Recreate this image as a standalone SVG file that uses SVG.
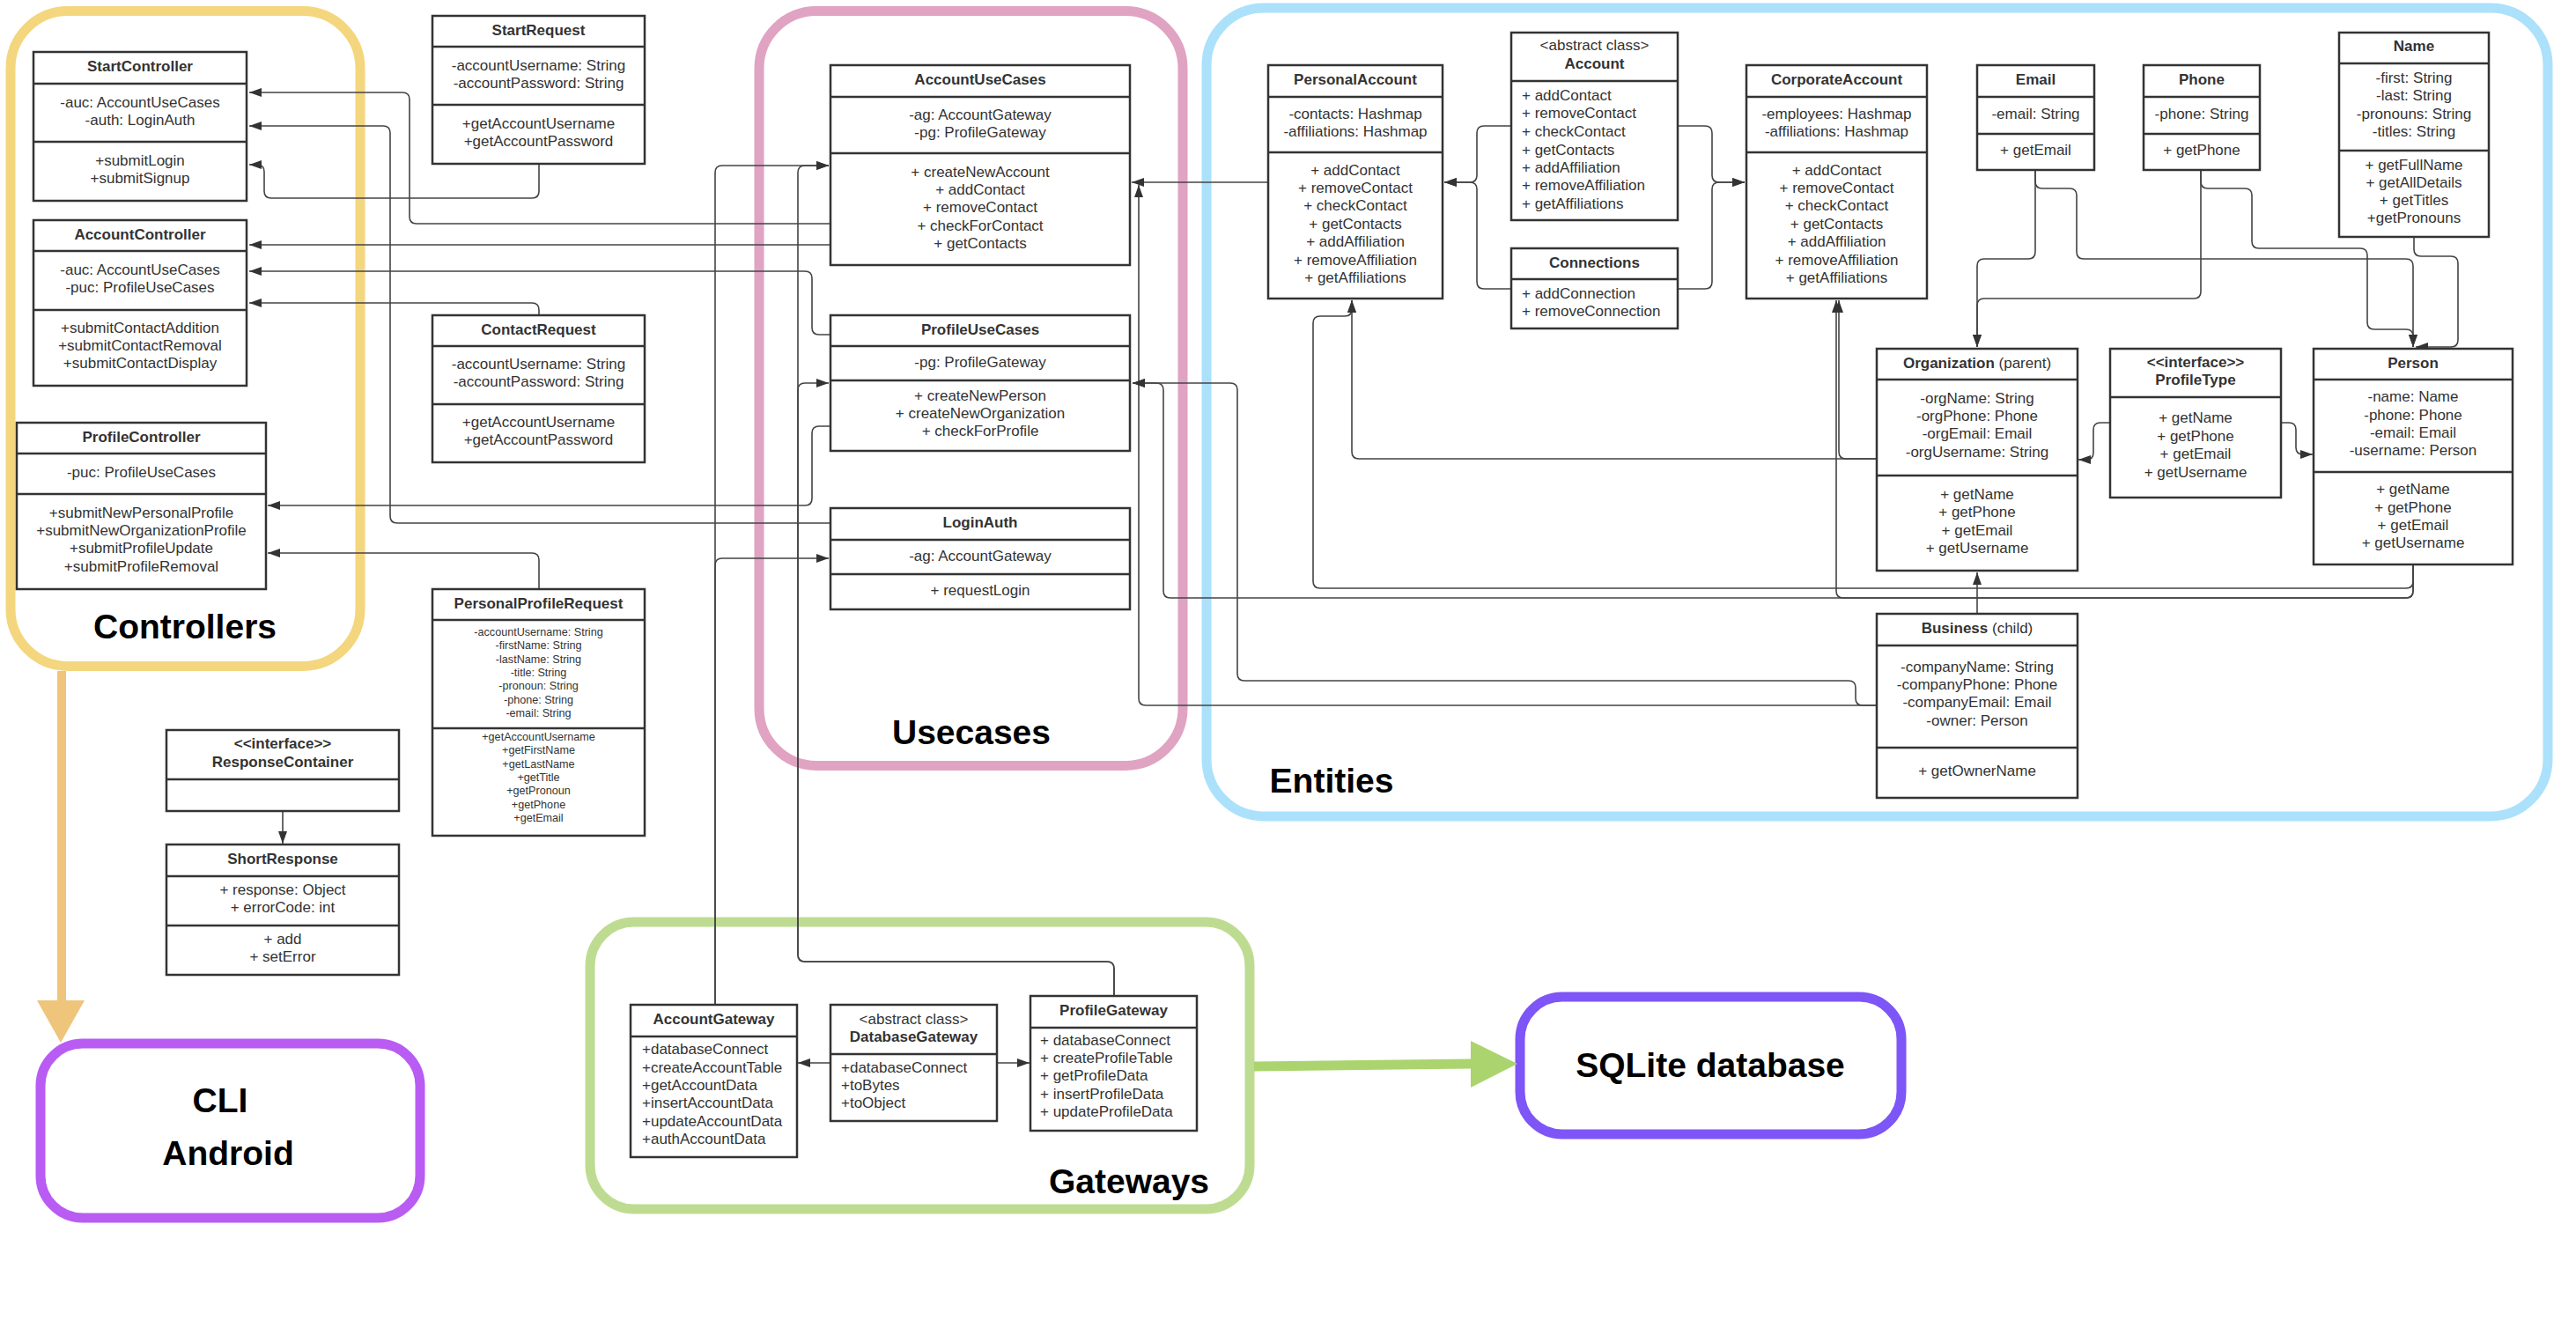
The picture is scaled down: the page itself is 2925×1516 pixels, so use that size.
<svg xmlns="http://www.w3.org/2000/svg" width="2925" height="1516" viewBox="0 0 2925 1516">
<defs>
<style>
.box{fill:#fff;stroke:#333;stroke-width:2.5}
.div{stroke:#333;stroke-width:2.5}
.h{font-family:"Liberation Sans",Arial,sans-serif;font-size:17px;font-weight:bold;fill:#333;text-anchor:middle}
.t{font-family:"Liberation Sans",Arial,sans-serif;font-size:17px;fill:#333;text-anchor:middle}
.tl{font-family:"Liberation Sans",Arial,sans-serif;font-size:17px;fill:#333}
.ts{font-family:"Liberation Sans",Arial,sans-serif;font-size:12.6px;fill:#333;text-anchor:middle}
.g{font-family:"Liberation Sans",Arial,sans-serif;font-size:39px;font-weight:bold;fill:#000;text-anchor:middle}
.c{fill:none;stroke:#444;stroke-width:1.6;marker-end:url(#a)}
.grp{fill:none;stroke-width:11}
</style>
<marker id="a" viewBox="0 0 14 10" markerWidth="14" markerHeight="10" markerUnits="userSpaceOnUse" refX="14" refY="5" orient="auto"><path d="M0,0 L14,5 L0,10 z" fill="#333"/></marker>
</defs>
<rect width="2925" height="1516" fill="#fff"/>

<g id="groups">
<rect id="controllers-group" class="grp" x="12" y="12.5" width="397" height="744" rx="65" stroke="#F4D67E"/>
<rect id="usecases-group" class="grp" x="862" y="12.5" width="481" height="857" rx="65" stroke="#E0A3C2"/>
<rect id="entities-group" class="grp" x="1370" y="9" width="1523" height="918" rx="65" stroke="#ABE1FB"/>
<rect id="gateways-group" class="grp" x="670" y="1047" width="749" height="326" rx="50" stroke="#BEDC91"/>
<text class="g" x="210" y="725">Controllers</text>
<text class="g" x="1103" y="845">Usecases</text>
<text class="g" x="1512" y="900">Entities</text>
<text class="g" x="1282" y="1355">Gateways</text>
</g>

<g id="cli-android">
<rect x="46" y="1185" width="431" height="198" rx="48" fill="#fff" stroke="#B95CF3" stroke-width="11"/>
<text class="g" x="250" y="1263">CLI</text>
<text class="g" x="259" y="1323">Android</text>
</g>
<g id="sqlite">
<rect x="1726" y="1132" width="433" height="156" rx="48" fill="#fff" stroke="#7E55F6" stroke-width="11"/>
<text class="g" x="1942" y="1223">SQLite database</text>
</g>

<g id="connectors">
<line x1="70" y1="762" x2="70" y2="1137" stroke="#EFC47B" stroke-width="10"/>
<polygon points="42,1136 96,1136 69,1184" fill="#EFC47B"/>
<line x1="1424" y1="1211" x2="1671" y2="1208" stroke="#ABD46E" stroke-width="11"/>
<polygon points="1670,1182 1723,1208 1670,1235" fill="#ABD46E"/>

<path class="c" d="M943,254 H473 Q465,254 465,246 V113 Q465,105 457,105 H283"/>
<path class="c" d="M943,594 H451 Q443,594 443,586 V151 Q443,143 435,143 H283"/>
<path class="c" d="M612,186 V217 Q612,225 604,225 H308 Q300,225 300,217 V195 Q300,187 292,187 H283"/>
<path class="c" d="M943,278 H283"/>
<path class="c" d="M943,380 H930 Q922,380 922,372 V316 Q922,308 914,308 H283"/>
<path class="c" d="M612,358 V352 Q612,344 604,344 H283"/>
<path class="c" d="M943,484 H930 Q922,484 922,492 V566 Q922,574 914,574 H304"/>
<path class="c" d="M612,669 V636 Q612,628 604,628 H304"/>
<path class="c" d="M812,1141 V196 Q812,188 820,188 H941"/>
<path class="c" d="M812,1141 V642 Q812,634 820,634 H941"/>
<path class="c" d="M1265,1131 V1100 Q1265,1092 1257,1092 H914 Q906,1092 906,1084 V196 Q906,188 914,188 H941"/>
<path class="c" d="M1265,1131 V1100 Q1265,1092 1257,1092 H914 Q906,1092 906,1084 V443 Q906,435 914,435 H941"/>
<path class="c" d="M1440,207 H1285"/>
<path class="c" d="M2131,801 H1301 Q1293,801 1293,793 V210"/>
<path class="c" d="M2740,641 V671 Q2740,679 2732,679 H1329 Q1321,679 1321,671 V443 Q1321,435 1313,435 H1286"/>
<path class="c" d="M2131,801 H2115 Q2107,801 2107,793 V781 Q2107,773 2099,773 H1413 Q1405,773 1405,765 V443 Q1405,435 1397,435 H1286"/>
<path class="c" d="M2740,641 V660 Q2740,668 2732,668 H1499 Q1491,668 1491,660 V367 Q1491,359 1499,359 H1527 Q1535,359 1535,351 V341"/>
<path class="c" d="M2131,521 H1543 Q1535,521 1535,513 V341"/>
<path class="c" d="M2131,521 H2096 Q2088,521 2088,513 V341"/>
<path class="c" d="M2740,641 V671 Q2740,679 2732,679 H2093 Q2085,679 2085,671 V341"/>
<path class="c" d="M1716,143 H1685 Q1677,143 1677,151 V199 Q1677,207 1669,207 H1640"/>
<path class="c" d="M1716,328 H1685 Q1677,328 1677,320 V215 Q1677,207 1669,207 H1640"/>
<path class="c" d="M1905,143 H1936 Q1944,143 1944,151 V199 Q1944,207 1952,207 H1981"/>
<path class="c" d="M1905,328 H1936 Q1944,328 1944,320 V215 Q1944,207 1952,207 H1981"/>
<path class="c" d="M2311,193 V286 Q2311,294 2303,294 H2253 Q2245,294 2245,302 V394"/>
<path class="c" d="M2499,193 V331 Q2499,339 2491,339 H2253 Q2245,339 2245,347 V394"/>
<path class="c" d="M2311,193 V206 Q2311,214 2319,214 H2350 Q2358,214 2358,222 V286 Q2358,294 2366,294 H2732 Q2740,294 2740,302 V394"/>
<path class="c" d="M2499,193 V206 Q2499,214 2507,214 H2549 Q2557,214 2557,222 V274 Q2557,282 2565,282 H2680 Q2688,282 2688,290 V366 Q2688,374 2696,374 H2732 Q2740,374 2740,382 V394"/>
<path class="c" d="M2741,269 V283 Q2741,291 2749,291 H2783 Q2791,291 2791,299 V386 Q2791,394 2783,394 H2743"/>
<path class="c" d="M2396,480 H2385 Q2377,480 2377,488 V514 Q2377,522 2369,522 H2360"/>
<path class="c" d="M2590,480 H2599 Q2607,480 2607,488 V508 Q2607,516 2615,516 H2626"/>
<path class="c" d="M2245,697 V650"/>
<path class="c" d="M321,921 V958"/>
<path class="c" d="M943,1207 H906"/>
<path class="c" d="M1132,1207 H1169"/>
</g>

<g id="StartController">
<rect class="box" x="38" y="59" width="242" height="169"/>
<line class="div" x1="38" y1="95" x2="280" y2="95"/><line class="div" x1="38" y1="161" x2="280" y2="161"/>
<text class="h" x="159" y="81">StartController</text>
<text class="t"><tspan x="159" y="122">-auc: AccountUseCases</tspan><tspan x="159" y="142">-auth: LoginAuth</tspan></text>
<text class="t"><tspan x="159" y="188">+submitLogin</tspan><tspan x="159" y="208">+submitSignup</tspan></text>
</g>

<g id="StartRequest">
<rect class="box" x="491" y="18" width="241" height="168"/>
<line class="div" x1="491" y1="53" x2="732" y2="53"/><line class="div" x1="491" y1="119" x2="732" y2="119"/>
<text class="h" x="611.5" y="40">StartRequest</text>
<text class="t"><tspan x="611.5" y="80">-accountUsername: String</tspan><tspan x="611.5" y="100">-accountPassword: String</tspan></text>
<text class="t"><tspan x="611.5" y="146">+getAccountUsername</tspan><tspan x="611.5" y="166">+getAccountPassword</tspan></text>
</g>

<g id="AccountController">
<rect class="box" x="38" y="250" width="242" height="188"/>
<line class="div" x1="38" y1="285" x2="280" y2="285"/><line class="div" x1="38" y1="352" x2="280" y2="352"/>
<text class="h" x="159" y="272">AccountController</text>
<text class="t"><tspan x="159" y="312">-auc: AccountUseCases</tspan><tspan x="159" y="332">-puc: ProfileUseCases</tspan></text>
<text class="t"><tspan x="159" y="378">+submitContactAddition</tspan><tspan x="159" y="398">+submitContactRemoval</tspan><tspan x="159" y="418">+submitContactDisplay</tspan></text>
</g>

<g id="ContactRequest">
<rect class="box" x="491" y="358" width="241" height="167"/>
<line class="div" x1="491" y1="393" x2="732" y2="393"/><line class="div" x1="491" y1="459" x2="732" y2="459"/>
<text class="h" x="611.5" y="380">ContactRequest</text>
<text class="t"><tspan x="611.5" y="419">-accountUsername: String</tspan><tspan x="611.5" y="439">-accountPassword: String</tspan></text>
<text class="t"><tspan x="611.5" y="485">+getAccountUsername</tspan><tspan x="611.5" y="505">+getAccountPassword</tspan></text>
</g>

<g id="ProfileController">
<rect class="box" x="19" y="480" width="283" height="189"/>
<line class="div" x1="19" y1="515" x2="302" y2="515"/><line class="div" x1="19" y1="561" x2="302" y2="561"/>
<text class="h" x="160.5" y="502">ProfileController</text>
<text class="t" x="160.5" y="542">-puc: ProfileUseCases</text>
<text class="t"><tspan x="160.5" y="588">+submitNewPersonalProfile</tspan><tspan x="160.5" y="608">+submitNewOrganizationProfile</tspan><tspan x="160.5" y="628">+submitProfileUpdate</tspan><tspan x="160.5" y="649">+submitProfileRemoval</tspan></text>
</g>

<g id="PersonalProfileRequest">
<rect class="box" x="491" y="669" width="241" height="280"/>
<line class="div" x1="491" y1="704" x2="732" y2="704"/><line class="div" x1="491" y1="827" x2="732" y2="827"/>
<text class="h" x="611.5" y="691">PersonalProfileRequest</text>
<text class="ts"><tspan x="611.5" y="722">-accountUsername: String</tspan><tspan x="611.5" y="737.4">-firstName: String</tspan><tspan x="611.5" y="752.7">-lastName: String</tspan><tspan x="611.5" y="768">-title: String</tspan><tspan x="611.5" y="783.4">-pronoun: String</tspan><tspan x="611.5" y="798.7">-phone: String</tspan><tspan x="611.5" y="814">-email: String</tspan></text>
<text class="ts"><tspan x="611.5" y="841">+getAccountUsername</tspan><tspan x="611.5" y="856.4">+getFirstName</tspan><tspan x="611.5" y="871.7">+getLastName</tspan><tspan x="611.5" y="887">+getTitle</tspan><tspan x="611.5" y="902.4">+getPronoun</tspan><tspan x="611.5" y="917.7">+getPhone</tspan><tspan x="611.5" y="933">+getEmail</tspan></text>
</g>

<g id="ResponseContainer">
<rect class="box" x="189" y="829" width="264" height="92"/>
<line class="div" x1="189" y1="885" x2="453" y2="885"/>
<text class="h"><tspan x="321" y="850">&lt;&lt;interface&gt;&gt;</tspan><tspan x="321" y="871">ResponseContainer</tspan></text>
</g>

<g id="ShortResponse">
<rect class="box" x="189" y="959" width="264" height="148"/>
<line class="div" x1="189" y1="995" x2="453" y2="995"/><line class="div" x1="189" y1="1051" x2="453" y2="1051"/>
<text class="h" x="321" y="981">ShortResponse</text>
<text class="t"><tspan x="321" y="1016">+ response: Object</tspan><tspan x="321" y="1036">+ errorCode: int</tspan></text>
<text class="t"><tspan x="321" y="1072">+ add</tspan><tspan x="321" y="1092">+ setError</tspan></text>
</g>

<g id="AccountUseCases">
<rect class="box" x="943" y="74" width="340" height="227"/>
<line class="div" x1="943" y1="110" x2="1283" y2="110"/><line class="div" x1="943" y1="174" x2="1283" y2="174"/>
<text class="h" x="1113" y="96">AccountUseCases</text>
<text class="t"><tspan x="1113" y="136">-ag: AccountGateway</tspan><tspan x="1113" y="156">-pg: ProfileGateway</tspan></text>
<text class="t"><tspan x="1113" y="201">+ createNewAccount</tspan><tspan x="1113" y="221">+ addContact</tspan><tspan x="1113" y="241">+ removeContact</tspan><tspan x="1113" y="262">+ checkForContact</tspan><tspan x="1113" y="282">+ getContacts</tspan></text>
</g>

<g id="ProfileUseCases">
<rect class="box" x="943" y="358" width="340" height="154"/>
<line class="div" x1="943" y1="393" x2="1283" y2="393"/><line class="div" x1="943" y1="432" x2="1283" y2="432"/>
<text class="h" x="1113" y="380">ProfileUseCases</text>
<text class="t" x="1113" y="417">-pg: ProfileGateway</text>
<text class="t"><tspan x="1113" y="455">+ createNewPerson</tspan><tspan x="1113" y="475">+ createNewOrganization</tspan><tspan x="1113" y="495">+ checkForProfile</tspan></text>
</g>

<g id="LoginAuth">
<rect class="box" x="943" y="577" width="340" height="115"/>
<line class="div" x1="943" y1="613" x2="1283" y2="613"/><line class="div" x1="943" y1="652" x2="1283" y2="652"/>
<text class="h" x="1113" y="599">LoginAuth</text>
<text class="t" x="1113" y="637">-ag: AccountGateway</text>
<text class="t" x="1113" y="676">+ requestLogin</text>
</g>

<g id="PersonalAccount">
<rect class="box" x="1440" y="74" width="198" height="265"/>
<line class="div" x1="1440" y1="110" x2="1638" y2="110"/><line class="div" x1="1440" y1="173" x2="1638" y2="173"/>
<text class="h" x="1539" y="96">PersonalAccount</text>
<text class="t"><tspan x="1539" y="135">-contacts: Hashmap</tspan><tspan x="1539" y="155">-affiliations: Hashmap</tspan></text>
<text class="t"><tspan x="1539" y="199">+ addContact</tspan><tspan x="1539" y="219">+ removeContact</tspan><tspan x="1539" y="239">+ checkContact</tspan><tspan x="1539" y="260">+ getContacts</tspan><tspan x="1539" y="280">+ addAffiliation</tspan><tspan x="1539" y="301">+ removeAffiliation</tspan><tspan x="1539" y="321">+ getAffiliations</tspan></text>
</g>

<g id="Account">
<rect class="box" x="1716" y="37" width="189" height="213"/>
<line class="div" x1="1716" y1="92" x2="1905" y2="92"/>
<text class="t" x="1810.5" y="57">&lt;abstract class&gt;</text>
<text class="h" x="1810.5" y="78">Account</text>
<text class="tl"><tspan x="1728" y="114">+ addContact</tspan><tspan x="1728" y="134">+ removeContact</tspan><tspan x="1728" y="155">+ checkContact</tspan><tspan x="1728" y="176">+ getContacts</tspan><tspan x="1728" y="196">+ addAffiliation</tspan><tspan x="1728" y="216">+ removeAffiliation</tspan><tspan x="1728" y="237">+ getAffiliations</tspan></text>
</g>

<g id="Connections">
<rect class="box" x="1716" y="282" width="189" height="91"/>
<line class="div" x1="1716" y1="317" x2="1905" y2="317"/>
<text class="h" x="1810.5" y="304">Connections</text>
<text class="tl"><tspan x="1728" y="339">+ addConnection</tspan><tspan x="1728" y="359">+ removeConnection</tspan></text>
</g>

<g id="CorporateAccount">
<rect class="box" x="1983" y="74" width="205" height="265"/>
<line class="div" x1="1983" y1="110" x2="2188" y2="110"/><line class="div" x1="1983" y1="173" x2="2188" y2="173"/>
<text class="h" x="2085.5" y="96">CorporateAccount</text>
<text class="t"><tspan x="2085.5" y="135">-employees: Hashmap</tspan><tspan x="2085.5" y="155">-affiliations: Hashmap</tspan></text>
<text class="t"><tspan x="2085.5" y="199">+ addContact</tspan><tspan x="2085.5" y="219">+ removeContact</tspan><tspan x="2085.5" y="239">+ checkContact</tspan><tspan x="2085.5" y="260">+ getContacts</tspan><tspan x="2085.5" y="280">+ addAffiliation</tspan><tspan x="2085.5" y="301">+ removeAffiliation</tspan><tspan x="2085.5" y="321">+ getAffiliations</tspan></text>
</g>

<g id="Email">
<rect class="box" x="2245" y="74" width="133" height="119"/>
<line class="div" x1="2245" y1="110" x2="2378" y2="110"/><line class="div" x1="2245" y1="152" x2="2378" y2="152"/>
<text class="h" x="2311.5" y="96">Email</text>
<text class="t" x="2311.5" y="135">-email: String</text>
<text class="t" x="2311.5" y="176">+ getEmail</text>
</g>

<g id="Phone">
<rect class="box" x="2434" y="74" width="132" height="119"/>
<line class="div" x1="2434" y1="110" x2="2566" y2="110"/><line class="div" x1="2434" y1="152" x2="2566" y2="152"/>
<text class="h" x="2500" y="96">Phone</text>
<text class="t" x="2500" y="135">-phone: String</text>
<text class="t" x="2500" y="176">+ getPhone</text>
</g>

<g id="Name">
<rect class="box" x="2656" y="37" width="170" height="232"/>
<line class="div" x1="2656" y1="72" x2="2826" y2="72"/><line class="div" x1="2656" y1="171" x2="2826" y2="171"/>
<text class="h" x="2741" y="58">Name</text>
<text class="t"><tspan x="2741" y="94">-first: String</tspan><tspan x="2741" y="114">-last: String</tspan><tspan x="2741" y="135">-pronouns: String</tspan><tspan x="2741" y="155">-titles: String</tspan></text>
<text class="t"><tspan x="2741" y="193">+ getFullName</tspan><tspan x="2741" y="213">+ getAllDetails</tspan><tspan x="2741" y="233">+ getTitles</tspan><tspan x="2741" y="253">+getPronouns</tspan></text>
</g>

<g id="Organization">
<rect class="box" x="2131" y="396" width="228" height="252"/>
<line class="div" x1="2131" y1="431" x2="2359" y2="431"/><line class="div" x1="2131" y1="540" x2="2359" y2="540"/>
<text class="h" x="2245" y="418">Organization <tspan font-weight="normal">(parent)</tspan></text>
<text class="t"><tspan x="2245" y="458">-orgName: String</tspan><tspan x="2245" y="478">-orgPhone: Phone</tspan><tspan x="2245" y="498">-orgEmail: Email</tspan><tspan x="2245" y="519">-orgUsername: String</tspan></text>
<text class="t"><tspan x="2245" y="567">+ getName</tspan><tspan x="2245" y="587">+ getPhone</tspan><tspan x="2245" y="608">+ getEmail</tspan><tspan x="2245" y="628">+ getUsername</tspan></text>
</g>

<g id="ProfileType">
<rect class="box" x="2396" y="396" width="194" height="169"/>
<line class="div" x1="2396" y1="451" x2="2590" y2="451"/>
<text class="h"><tspan x="2493" y="417">&lt;&lt;interface&gt;&gt;</tspan><tspan x="2493" y="437">ProfileType</tspan></text>
<text class="t"><tspan x="2493" y="480">+ getName</tspan><tspan x="2493" y="501">+ getPhone</tspan><tspan x="2493" y="521">+ getEmail</tspan><tspan x="2493" y="542">+ getUsername</tspan></text>
</g>

<g id="Person">
<rect class="box" x="2627" y="396" width="226" height="245"/>
<line class="div" x1="2627" y1="431" x2="2853" y2="431"/><line class="div" x1="2627" y1="536" x2="2853" y2="536"/>
<text class="h" x="2740" y="418">Person</text>
<text class="t"><tspan x="2740" y="456">-name: Name</tspan><tspan x="2740" y="477">-phone: Phone</tspan><tspan x="2740" y="497">-email: Email</tspan><tspan x="2740" y="517">-username: Person</tspan></text>
<text class="t"><tspan x="2740" y="561">+ getName</tspan><tspan x="2740" y="582">+ getPhone</tspan><tspan x="2740" y="602">+ getEmail</tspan><tspan x="2740" y="622">+ getUsername</tspan></text>
</g>

<g id="Business">
<rect class="box" x="2131" y="697" width="228" height="209"/>
<line class="div" x1="2131" y1="733" x2="2359" y2="733"/><line class="div" x1="2131" y1="849" x2="2359" y2="849"/>
<text class="h" x="2245" y="719">Business <tspan font-weight="normal">(child)</tspan></text>
<text class="t"><tspan x="2245" y="763">-companyName: String</tspan><tspan x="2245" y="783">-companyPhone: Phone</tspan><tspan x="2245" y="803">-companyEmail: Email</tspan><tspan x="2245" y="824">-owner: Person</tspan></text>
<text class="t" x="2245" y="881">+ getOwnerName</text>
</g>

<g id="AccountGateway">
<rect class="box" x="716" y="1141" width="189" height="173"/>
<line class="div" x1="716" y1="1177" x2="905" y2="1177"/>
<text class="h" x="810.5" y="1163">AccountGateway</text>
<text class="tl"><tspan x="729" y="1197">+databaseConnect</tspan><tspan x="729" y="1218">+createAccountTable</tspan><tspan x="729" y="1238">+getAccountData</tspan><tspan x="729" y="1258">+insertAccountData</tspan><tspan x="729" y="1279">+updateAccountData</tspan><tspan x="729" y="1299">+authAccountData</tspan></text>
</g>

<g id="DatabaseGateway">
<rect class="box" x="943" y="1141" width="189" height="132"/>
<line class="div" x1="943" y1="1197" x2="1132" y2="1197"/>
<text class="t" x="1037.5" y="1163">&lt;abstract class&gt;</text>
<text class="h" x="1037.5" y="1183">DatabaseGateway</text>
<text class="tl"><tspan x="955" y="1218">+databaseConnect</tspan><tspan x="955" y="1238">+toBytes</tspan><tspan x="955" y="1258">+toObject</tspan></text>
</g>

<g id="ProfileGateway">
<rect class="box" x="1170" y="1131" width="189" height="153"/>
<line class="div" x1="1170" y1="1167" x2="1359" y2="1167"/>
<text class="h" x="1264.5" y="1153">ProfileGateway</text>
<text class="tl"><tspan x="1181" y="1187">+ databaseConnect</tspan><tspan x="1181" y="1207">+ createProfileTable</tspan><tspan x="1181" y="1227">+ getProfileData</tspan><tspan x="1181" y="1248">+ insertProfileData</tspan><tspan x="1181" y="1268">+ updateProfileData</tspan></text>
</g>
</svg>
